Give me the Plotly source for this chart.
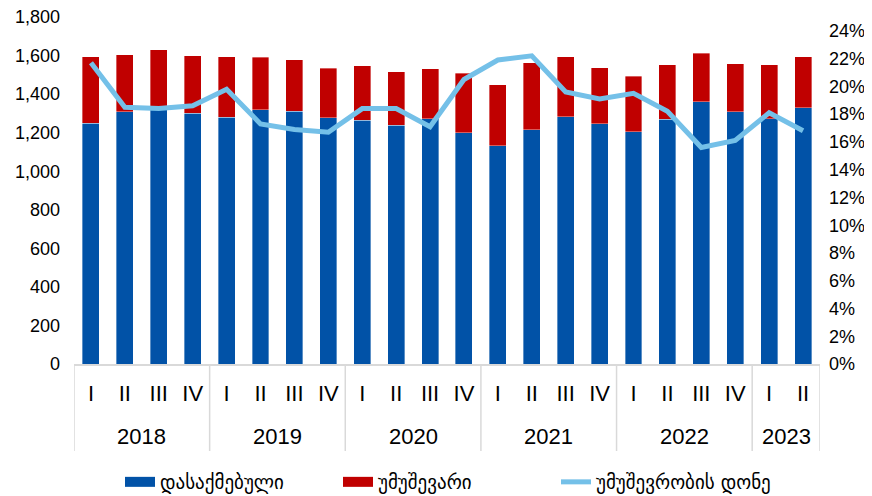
import plotly.graph_objects as go

years = ["2018"] * 4 + ["2019"] * 4 + ["2020"] * 4 + ["2021"] * 4 + ["2022"] * 4 + ["2023"] * 2
quarters = ["I", "II", "III", "IV"] * 5 + ["I", "II"]

employed = [1248, 1308, 1330, 1301, 1280, 1319, 1311, 1277,
            1265, 1239, 1272, 1199, 1132, 1215, 1282, 1246,
            1204, 1270, 1360, 1308, 1272, 1329]
unemployed = [345, 296, 301, 298, 315, 272, 267, 256,
              282, 277, 259, 309, 316, 347, 312, 292,
              289, 282, 251, 249, 280, 266]
rate = [21.7, 18.5, 18.4, 18.6, 19.8, 17.3, 16.9, 16.7,
        18.4, 18.4, 17.1, 20.5, 21.9, 22.2, 19.6, 19.1,
        19.5, 18.2, 15.6, 16.1, 18.1, 16.8]

names = ["დასაქმებული", "უმუშევარი", "უმუშევრობის დონე"]
c_emp, c_unemp, c_rate = "#0152A7", "#C00000", "#74C0E8"

xs = list(range(len(quarters)))

# page body has an 8px margin, so the figure is offset by 8px
W, H = 864, 488
ML, MR, MT, MB = 66, 52, 9, 132
PH = H - MT - MB  # plot height in px

fig = go.Figure()
fig.add_trace(go.Bar(x=xs, y=employed, name=names[0], showlegend=False,
                     marker=dict(color=c_emp, line=dict(color="rgba(255,255,255,0.6)", width=0.6))))
fig.add_trace(go.Bar(x=xs, y=unemployed, name=names[1], showlegend=False,
                     marker=dict(color=c_unemp, line=dict(color="rgba(255,255,255,0.6)", width=0.6))))
fig.add_trace(go.Scatter(x=xs, y=[r / 100 for r in rate], name=names[2], yaxis="y2",
                         mode="lines", line=dict(color=c_rate, width=5), showlegend=False))

# legend entries (wide swatches as in the reference)
for nm, col, w in [(names[0], c_emp, 11), (names[1], c_unemp, 11), (names[2], c_rate, 5)]:
    fig.add_trace(go.Scatter(x=[None], y=[None], mode="lines", name=nm,
                             line=dict(color=col, width=w)))

# year group labels and dividers
groups = []
for i, yv in enumerate(years):
    if not groups or groups[-1][0] != yv:
        groups.append([yv, i, i])
    else:
        groups[-1][2] = i

y_year = -72 / PH
y_div = -87 / PH
for yv, a, b in groups:
    fig.add_annotation(x=(a + b) / 2, y=y_year, xref="x", yref="paper", text=yv,
                       showarrow=False, yanchor="middle", font=dict(size=22))
    fig.add_shape(type="line", xref="x", yref="paper", x0=a - 0.5, x1=a - 0.5,
                  y0=0, y1=y_div, line=dict(color="#d9d9d9", width=1.5))
last = groups[-1][2] + 0.5
fig.add_shape(type="line", xref="x", yref="paper", x0=last, x1=last,
              y0=0, y1=y_div, line=dict(color="#d9d9d9", width=1.5))

fig.update_layout(
    width=W, height=H,
    margin=dict(l=ML, r=MR, t=MT, b=MB, autoexpand=False),
    barmode="stack", bargap=0.5,
    plot_bgcolor="white", paper_bgcolor="white",
    font=dict(family="Liberation Sans, Arial, sans-serif", color="#000000", size=18),
    xaxis=dict(range=[-0.5, len(xs) - 0.5], tickvals=xs, ticktext=quarters,
               showline=True, linecolor="#d9d9d9", linewidth=1.5,
               ticks="", tickfont=dict(size=22), showgrid=False, zeroline=False,
               ticklabelstandoff=9),
    yaxis=dict(range=[0, 1800], dtick=200, tickformat=",", showgrid=False,
               zeroline=False, showline=False, tickfont=dict(size=18),
               ticklabeloverflow="allow", ticklabelstandoff=13),
    yaxis2=dict(range=[0, 0.25], dtick=0.02, tickformat=".0%", overlaying="y", side="right",
                showgrid=False, zeroline=False, showline=False, tickfont=dict(size=18),
                ticklabeloverflow="allow", ticklabelstandoff=8),
    legend=dict(orientation="h", x=0.5, xanchor="center", xref="paper",
                y=1 - 474 / H, yanchor="middle", yref="container",
                font=dict(family="DejaVu Sans, Noto Sans, sans-serif", size=19),
                entrywidth=173, entrywidthmode="pixels",
                traceorder="normal"),
    showlegend=True,
)

fig.write_html("out.html")
